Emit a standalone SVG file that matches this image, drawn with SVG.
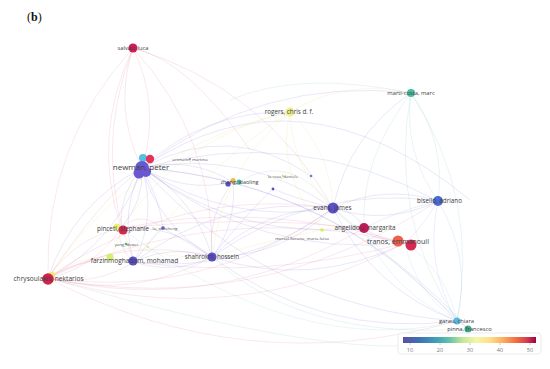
<svg xmlns="http://www.w3.org/2000/svg" width="550" height="369" viewBox="0 0 550 369">
<defs>
<linearGradient id="cbar" x1="0" y1="0" x2="1" y2="0">
<stop offset="0" stop-color="#5e4fa2"/>
<stop offset="0.12" stop-color="#3f6fb5"/>
<stop offset="0.25" stop-color="#3f9fb8"/>
<stop offset="0.35" stop-color="#66c2a5"/>
<stop offset="0.45" stop-color="#c5e89a"/>
<stop offset="0.55" stop-color="#f2f7a8"/>
<stop offset="0.65" stop-color="#fee08b"/>
<stop offset="0.75" stop-color="#fdae61"/>
<stop offset="0.85" stop-color="#f46d43"/>
<stop offset="0.93" stop-color="#d53e4f"/>
<stop offset="1" stop-color="#9e0142"/>
</linearGradient>
</defs>
<style>
.e{fill:none;stroke-width:0.8;stroke-opacity:0.2}
.p{stroke:#7a6cd0}
.r{stroke:#dc6a8c}
.y{stroke:#d8d860}
.t{stroke:#70c0b0}
.b{stroke:#7a98dc}
.c{stroke:#80c8e0}
.lab{font-family:"Open Sans","Liberation Sans",sans-serif;fill:#404040;text-anchor:middle}
.sm{font-family:"Open Sans","Liberation Sans",sans-serif;fill:#555;text-anchor:middle;font-size:4.3px}
.tick{font-family:"Open Sans","Liberation Sans",sans-serif;fill:#777;text-anchor:middle;font-size:5.5px}
</style>
<rect width="550" height="369" fill="#ffffff"/>
<text x="27" y="20.5" font-family="Liberation Serif,serif" font-size="12" fill="#111">(<tspan font-weight="bold">b</tspan>)</text>

<g id="connectors">
<path class="e r" d="M133,48 Q113,109 142,168"/>
<path class="e r" d="M133,48 Q161,106 142,168"/>
<path class="e r" d="M133,48 Q91,136 121,228"/>
<path class="e r" d="M133,48 Q44,146 48,278"/>
<path class="e r" d="M133,48 Q214,137 212,257"/>
<path class="e r" d="M133,48 Q91,155 134,262"/>
<path class="e r" d="M133,48 Q188,60 250,150"/>
<path class="e r" d="M133,48 Q265,88 333,208"/>
<path class="e p" d="M142,168 Q229,226 333,208"/>
<path class="e p" d="M142,168 Q246,149 333,208"/>
<path class="e p" d="M142,168 Q297,125 438,201"/>
<path class="e p" d="M142,168 Q262,76 411,93"/>
<path class="e p" d="M142,168 Q205,110 290,112"/>
<path class="e p" d="M142,168 Q269,307 457,321"/>
<path class="e p" d="M142,168 Q330,181 457,321"/>
<path class="e p" d="M142,168 Q258,258 405,243"/>
<path class="e p" d="M142,168 Q241,242 364,228"/>
<path class="e p" d="M142,168 Q159,226 212,257"/>
<path class="e p" d="M142,168 Q195,198 212,257"/>
<path class="e p" d="M142,168 Q119,193 121,228"/>
<path class="e p" d="M142,168 Q144,202 121,228"/>
<path class="e p" d="M142,168 Q73,204 48,278"/>
<path class="e p" d="M142,168 Q117,241 48,278"/>
<path class="e p" d="M142,168 Q119,213 134,262"/>
<path class="e p" d="M142,168 Q157,216 134,262"/>
<path class="e p" d="M142,168 Q185,193 233,182"/>
<path class="e p" d="M142,168 Q190,156 233,182"/>
<path class="e p" d="M142,168 Q160,200 163,228"/>
<path class="e p" d="M142,168 Q337,183 468,329"/>
<path class="e p" d="M142,168 Q230,120 311,176"/>
<path class="e p" d="M142,168 Q300,60 470,200"/>
<path class="e r" d="M48,278 Q95,268 121,228"/>
<path class="e r" d="M48,278 Q75,238 121,228"/>
<path class="e r" d="M48,278 Q94,287 134,262"/>
<path class="e r" d="M48,278 Q88,253 134,262"/>
<path class="e r" d="M48,278 Q134,300 212,257"/>
<path class="e r" d="M48,278 Q126,235 212,257"/>
<path class="e r" d="M48,278 Q205,300 333,208"/>
<path class="e r" d="M48,278 Q177,186 333,208"/>
<path class="e r" d="M48,278 Q234,332 405,243"/>
<path class="e r" d="M48,278 Q220,200 405,243"/>
<path class="e r" d="M48,278 Q244,381 457,321"/>
<path class="e r" d="M48,278 Q216,316 364,228"/>
<path class="e r" d="M48,278 Q258,318 438,201"/>
<path class="e r" d="M48,278 Q100,200 142,168"/>
<path class="e y" d="M290,112 Q136,147 48,278"/>
<path class="e y" d="M290,112 Q182,136 121,228"/>
<path class="e y" d="M290,112 Q222,169 212,257"/>
<path class="e y" d="M290,112 Q292,169 333,208"/>
<path class="e y" d="M290,112 Q331,151 333,208"/>
<path class="e y" d="M290,112 Q347,78 411,93"/>
<path class="e y" d="M290,112 Q200,170 134,262"/>
<path class="e y" d="M290,112 Q275,170 322,230"/>
<path class="e p" d="M212,257 Q282,257 333,208"/>
<path class="e p" d="M212,257 Q263,208 333,208"/>
<path class="e p" d="M212,257 Q314,184 438,201"/>
<path class="e p" d="M212,257 Q237,224 233,182"/>
<path class="e p" d="M212,257 Q207,215 233,182"/>
<path class="e p" d="M212,257 Q172,244 134,262"/>
<path class="e p" d="M212,257 Q174,275 134,262"/>
<path class="e p" d="M212,257 Q172,224 121,228"/>
<path class="e p" d="M212,257 Q322,338 457,321"/>
<path class="e p" d="M212,257 Q311,289 405,243"/>
<path class="e p" d="M212,257 Q180,238 163,228"/>
<path class="e p" d="M212,257 Q250,210 273,189"/>
<path class="e p" d="M333,208 Q387,226 438,201"/>
<path class="e p" d="M333,208 Q384,184 438,201"/>
<path class="e p" d="M333,208 Q362,240 405,243"/>
<path class="e p" d="M333,208 Q355,210 364,228"/>
<path class="e p" d="M333,208 Q349,135 411,93"/>
<path class="e p" d="M333,208 Q372,289 457,321"/>
<path class="e p" d="M333,208 Q300,200 273,189"/>
<path class="e p" d="M333,208 Q244,275 134,262"/>
<path class="e p" d="M333,208 Q223,195 134,262"/>
<path class="e b" d="M438,201 Q424,265 457,321"/>
<path class="e b" d="M438,201 Q472,257 457,321"/>
<path class="e b" d="M438,201 Q420,230 405,243"/>
<path class="e b" d="M438,201 Q400,210 364,228"/>
<path class="e t" d="M411,93 Q388,216 457,321"/>
<path class="e t" d="M411,93 Q480,198 457,321"/>
<path class="e t" d="M411,93 Q403,152 438,201"/>
<path class="e t" d="M411,93 Q446,142 438,201"/>
<path class="e t" d="M411,93 Q360,160 364,228"/>
<path class="e t" d="M411,93 Q300,70 230,100"/>
<path class="e c" d="M457,321 Q415,292 405,243"/>
<path class="e c" d="M457,321 Q447,272 405,243"/>
<path class="e c" d="M457,321 Q392,293 364,228"/>
<path class="e c" d="M457,321 Q462,324 468,329"/>
<path class="e c" d="M457,321 Q300,360 121,228"/>
<path class="e t" d="M468,329 Q300,340 212,257"/>
<path class="e t" d="M468,329 Q350,220 333,208"/>
<path class="e t" d="M468,329 Q400,380 48,278"/>
<path class="e r" d="M405,243 Q260,200 121,228"/>
<path class="e r" d="M405,243 Q270,280 134,262"/>
<path class="e r" d="M364,228 Q240,215 121,228"/>
<path class="e r" d="M364,228 Q380,240 405,243"/>
<path class="e r" d="M121,228 Q115,245 134,262"/>
<path class="e r" d="M121,228 Q140,210 163,228"/>
<path class="e y" d="M110,257 Q80,255 48,278"/>
<path class="e y" d="M110,257 Q120,240 121,228"/>
<path class="e y" d="M126,244 Q170,260 212,257"/>
<path class="e y" d="M322,230 Q345,225 364,228"/>
<path class="e y" d="M322,230 Q270,240 212,257"/>
<path class="e p" d="M163,228 Q150,240 134,262"/>
<path class="e t" d="M239,182 Q290,150 333,208"/>
</g>

<g id="node-salvati">
<circle cx="133" cy="48" r="4.5" fill="#cc1f55"/>
<text class="lab" x="133" y="50" font-size="5.8">salvati, luca</text>
</g>
<g id="node-rogers">
<circle cx="290" cy="112" r="4.5" fill="#eeee85" fill-opacity="0.9"/>
<text class="lab" x="289" y="114.2" font-size="6.3">rogers, chris d. f.</text>
</g>
<g id="node-marti-costa">
<circle cx="411" cy="93" r="4" fill="#45bfa2"/>
<text class="lab" x="411" y="95.2" font-size="5.8">marti-costa, marc</text>
</g>
<g id="node-newman">
<circle cx="143" cy="158" r="4" fill="#52c0de"/>
<circle cx="150" cy="159" r="4.2" fill="#e2335c"/>
<circle cx="142" cy="168" r="7" fill="#6a58d2"/>
<circle cx="139" cy="173" r="5.5" fill="#6a58d2"/>
<circle cx="146" cy="172" r="5" fill="#6a58d2"/>
<text class="lab" x="141" y="169.8" font-size="8">newman, peter</text>
</g>
<g id="node-artmann">
<circle cx="190" cy="159" r="1" fill="#8a7fd6"/>
<text class="sm" x="190" y="160.5">artmann, martina</text>
</g>
<g id="node-zhang">
<circle cx="228" cy="184" r="2.6" fill="#5a4ec8"/>
<circle cx="233" cy="180.5" r="2.5" fill="#f0b848"/>
<circle cx="239" cy="182" r="2.6" fill="#48b9a0"/>
<text class="lab" x="239.5" y="184" font-size="5.5">zhang, xiaoling</text>
</g>
<g id="node-larosa">
<circle cx="283" cy="176" r="1.3" fill="#d8e060"/>
<text class="sm" x="283" y="177.5">la rosa, daniele</text>
</g>
<g id="node-blue">
<circle cx="311" cy="176" r="1.3" fill="#4a90d0"/>
</g>
<g id="node-purple">
<circle cx="273" cy="189" r="1.4" fill="#5a4ec8"/>
</g>
<g id="node-evans">
<circle cx="333" cy="208" r="5.5" fill="#5c50cc"/>
<text class="lab" x="332.5" y="210.2" font-size="6.4">evans, james</text>
</g>
<g id="node-bisello">
<circle cx="438" cy="201" r="5" fill="#4a6ad2"/>
<text class="lab" x="439.5" y="203.2" font-size="6.3">bisello, adriano</text>
</g>
<g id="node-marsal">
<circle cx="322" cy="230" r="1.8" fill="#d6ee5a"/>
<text class="sm" x="302" y="239.5">marsal-llacuna, maria-luisa</text>
</g>
<g id="node-angelidou">
<circle cx="364" cy="228" r="5" fill="#c21a58"/>
<text class="lab" x="365" y="230.2" font-size="6.3">angelidou, margarita</text>
</g>
<g id="node-tranos">
<circle cx="398" cy="241" r="5.5" fill="#f0604e"/>
<circle cx="411" cy="245" r="5.5" fill="#d62a52"/>
<text class="lab" x="398" y="243.5" font-size="7">tranos, emmanouil</text>
</g>
<g id="node-garau">
<circle cx="457" cy="321" r="3.5" fill="#5ab6e2"/>
<text class="lab" x="456.5" y="323" font-size="5.8">garau, chiara</text>
</g>
<g id="node-pinna">
<circle cx="468" cy="329" r="3.5" fill="#3aaa8c"/>
<text class="lab" x="469.5" y="331" font-size="5.8">pinna, francesco</text>
</g>
<g id="node-pincetl">
<circle cx="117" cy="227" r="3.6" fill="#e8f07a"/>
<circle cx="123" cy="230" r="4.6" fill="#d4284f"/>
<text class="lab" x="123" y="231.2" font-size="6.3">pincetl, stephanie</text>
</g>
<g id="node-lu">
<circle cx="163" cy="228" r="1.8" fill="#6a5cd0"/>
<text class="sm" x="165" y="229.5">lu, weisheng</text>
</g>
<g id="node-yang">
<circle cx="126" cy="244" r="1.3" fill="#58b86a"/>
<circle cx="148" cy="247" r="1.2" fill="#e8ee7a"/>
<text class="sm" x="126.5" y="245.5">yang, dewei</text>
</g>
<g id="node-farzinmoghadam">
<circle cx="110" cy="257" r="3.6" fill="#d6ee70"/>
<circle cx="133" cy="261" r="4.6" fill="#5a4ec8"/>
<text class="lab" x="134.5" y="262.5" font-size="6.6">farzinmoghadam, mohamad</text>
</g>
<g id="node-shahrokni">
<circle cx="212" cy="257" r="4.5" fill="#5a4ec8"/>
<text class="lab" x="212" y="258.8" font-size="6.2">shahrokni, hossein</text>
</g>
<g id="node-chrysoulakis">
<circle cx="52" cy="275" r="3.2" fill="#f0e878"/>
<circle cx="48" cy="279" r="5.8" fill="#d0244f"/>
<text class="lab" x="48.5" y="281" font-size="6.6">chrysoulakis, nektarios</text>
</g>

<g id="legend">
<rect x="398" y="333" width="143" height="21" rx="3" fill="#ffffff" stroke="#e6e6e6" stroke-width="0.8"/>
<rect x="403" y="337" width="133" height="6" fill="url(#cbar)"/>
<g stroke="#999" stroke-width="0.5">
<line x1="410" y1="343" x2="410" y2="345"/>
<line x1="440" y1="343" x2="440" y2="345"/>
<line x1="470" y1="343" x2="470" y2="345"/>
<line x1="500" y1="343" x2="500" y2="345"/>
<line x1="530" y1="343" x2="530" y2="345"/>
</g>
<text class="tick" x="410" y="351.5">10</text>
<text class="tick" x="440" y="351.5">20</text>
<text class="tick" x="470" y="351.5">30</text>
<text class="tick" x="500" y="351.5">40</text>
<text class="tick" x="530" y="351.5">50</text>
</g>
</svg>
